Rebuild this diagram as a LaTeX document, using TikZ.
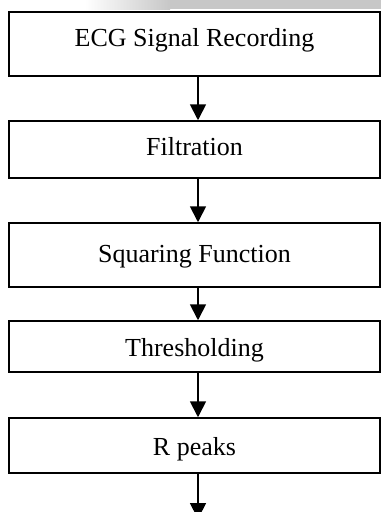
\documentclass[tikz,border=0pt]{standalone}
\usepackage{fontspec}
\setmainfont{Liberation Serif}
\usetikzlibrary{arrows.meta}

\begin{document}
\begin{tikzpicture}[x=1pt,y=-1pt,
  stage/.style={draw,line width=1.5pt,minimum width=371pt,inner sep=0pt,
    font=\fontsize{26}{30}\selectfont,text height=18pt,text depth=6pt},
  flow/.style={line width=1.8pt,-{Triangle[width=16pt,length=16pt]}}]
  \useasboundingbox(0,0)rectangle(381,512);
  % grey smear along the top edge
  \shade[left color=white,right color=black!22](85,0)rectangle(170,9);
  \fill[black!22](170,0)rectangle(381,9);
  \node[stage,minimum height=64pt,text depth=13pt](rec)at(194.5,44){ECG Signal Recording};
  \node[stage,minimum height=57pt](filt)at(194.5,149.5){Filtration};
  \node[stage,minimum height=64pt,text height=20pt](sq)at(194.5,255){Squaring Function};
  \node[stage,minimum height=51pt,text height=26pt](thr)at(194.5,346.5){Thresholding};
  \node[stage,minimum height=55pt,text height=26pt](rp)at(194.5,445.5){R peaks};
  \coordinate(ax)at(198,0);
  \coordinate(out)at(198,519);
  \foreach \a/\b in {rec/filt,filt/sq,sq/thr,thr/rp}
    \draw[flow](\a.south-|ax)--(\b.north-|ax);
  \draw[flow](rp.south-|ax)--(out);
\end{tikzpicture}
\end{document}
